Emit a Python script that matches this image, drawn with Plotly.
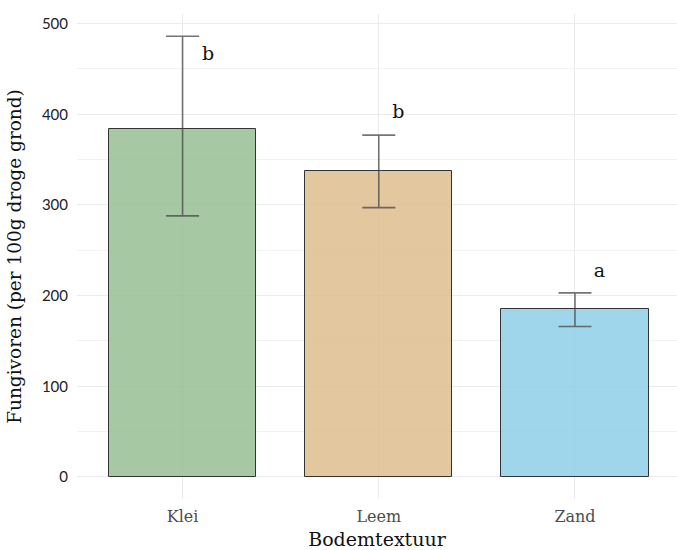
import plotly.graph_objects as go

categories = ["Klei", "Leem", "Zand"]
means = [384, 337, 185]
err_upper = [486, 377, 203]
err_lower = [288, 297, 166]
letters = ["b", "b", "a"]
letter_y = [465, 401, 226]
letter_dx = [0.13, 0.10, 0.125]
colors = ["rgba(150,191,148,0.85)", "rgba(222,189,142,0.85)", "rgba(143,207,233,0.85)"]
y_ticks = [0, 100, 200, 300, 400, 500]

xs = list(range(len(categories)))
fig = go.Figure()
fig.add_trace(go.Bar(
    x=xs, y=means, width=0.75,
    marker=dict(color=colors, line=dict(color="#333333", width=1)),
    error_y=dict(type="data", symmetric=False,
                 array=[u - m for u, m in zip(err_upper, means)],
                 arrayminus=[m - l for m, l in zip(means, err_lower)],
                 color="rgba(70,70,70,0.75)", thickness=1.6, width=16.5),
    showlegend=False, hoverinfo="skip",
))
fig.add_trace(go.Scatter(
    x=[x + d for x, d in zip(xs, letter_dx)], y=letter_y, mode="text", text=letters,
    textfont=dict(family="DejaVu Serif", size=19, color="#111111"),
    showlegend=False, hoverinfo="skip",
))

fig.update_layout(
    width=677, height=550,
    margin=dict(l=77, r=0, t=14, b=51),
    plot_bgcolor="white", paper_bgcolor="white",
    font=dict(family="DejaVu Serif", color="#222222"),
    bargap=0,
)
fig.update_xaxes(
    range=[-0.538, 2.52], tickmode="array", tickvals=xs, ticktext=categories,
    showgrid=True, gridcolor="#ebebeb", gridwidth=1, zeroline=False,
    showline=False, ticks="", ticklabelstandoff=6,
    tickfont=dict(family="DejaVu Serif", size=16, color="#4d4d4d"),
    title=dict(text="Bodemtextuur", font=dict(family="DejaVu Serif", size=19, color="#111111")),
    automargin=False,
)
fig.update_yaxes(
    range=[-24.3, 510.6], tickmode="array", tickvals=y_ticks,
    showgrid=True, gridcolor="#ebebeb", gridwidth=1, zeroline=False,
    minor=dict(dtick=50, showgrid=True, gridcolor="#f2f2f2", gridwidth=1),
    showline=False, ticks="", ticklabelstandoff=8,
    tickfont=dict(family="Lato", size=15, color="#222222"),
    title=dict(text="Fungivoren (per 100g droge grond)", font=dict(family="DejaVu Serif", size=18.5, color="#111111")),
    automargin=False,
)
fig.write_html("out.html", config={"displayModeBar": False},
               post_script="document.body.style.margin='0px';document.body.style.padding='0px';")
